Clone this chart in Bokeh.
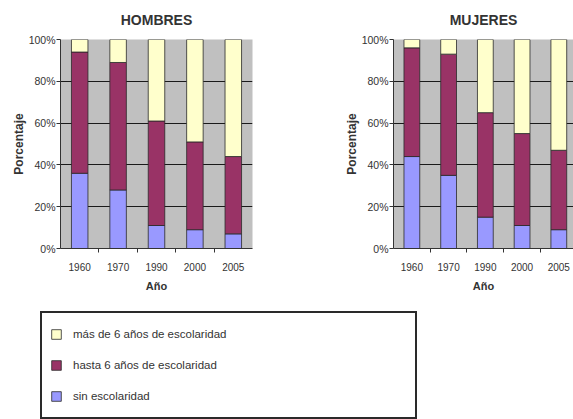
from bokeh.plotting import figure
from bokeh.layouts import column, row
from bokeh.models import Range1d, FixedTicker, Legend, LegendItem, ColumnDataSource
from bokeh.embed import file_html
from bokeh.resources import INLINE

years = ["1960", "1970", "1990", "2000", "2005"]
series = ["sin escolaridad", "hasta 6 años de escolaridad", "más de 6 años de escolaridad"]
hombres_sin = [36, 28, 11, 9, 7]
hombres_hasta = [58, 61, 50, 42, 37]
hombres_mas = [6, 11, 39, 49, 56]
mujeres_sin = [44, 35, 15, 11, 9]
mujeres_hasta = [52, 58, 50, 44, 38]
mujeres_mas = [4, 7, 35, 45, 53]
y_ticks = [0, 20, 40, 60, 80, 100]
y_tick_labels = ["0%", "20%", "40%", "60%", "80%", "100%"]

COLORS = ["#9999ff", "#993366", "#ffffcc"]
FONT = "Liberation Sans"
TXT = "#333333"


def make_chart(title, sin, hasta, mas, width, left, right, xend):
    p = figure(width=width, height=300, output_backend="svg", toolbar_location=None,
               x_range=Range1d(0, xend), y_range=Range1d(0, 100),
               min_border_left=left, min_border_right=right,
               min_border_top=39, min_border_bottom=52)
    p.title.text = title
    p.title.align = "center"
    p.title.vertical_align = "top"
    p.title.text_font = FONT
    p.title.text_font_size = "14px"
    p.title.text_font_style = "bold"
    p.title.text_color = TXT
    p.title.standoff = 19
    p.background_fill_color = "#c0c0c0"
    p.border_fill_color = "white"
    p.outline_line_color = None

    xs = [i + 0.5 for i in range(len(years))]
    b1 = [0] * len(sin)
    t1 = list(sin)
    b2 = t1
    t2 = [a + b for a, b in zip(sin, hasta)]
    b3 = t2
    t3 = [a + b + c for a, b, c in zip(sin, hasta, mas)]
    for bottom, top, col in [(b1, t1, COLORS[0]), (b2, t2, COLORS[1]), (b3, t3, COLORS[2])]:
        src = ColumnDataSource(dict(x=xs, bottom=bottom, top=top))
        p.vbar(x="x", bottom="bottom", top="top", width=0.43, source=src,
               fill_color=col, line_color="#2a2a2a", line_width=0.8)

    p.xaxis.ticker = FixedTicker(ticks=xs, minor_ticks=list(range(1, len(years))))
    p.xaxis.major_label_overrides = {x: y for x, y in zip(xs, years)}
    p.xaxis.major_tick_out = 0
    p.xaxis.major_tick_in = 0
    p.xaxis.minor_tick_out = 4
    p.xaxis.minor_tick_in = 0
    p.xaxis.minor_tick_line_color = "#333333"
    p.xaxis.axis_label = "Año"
    p.yaxis.axis_label = "Porcentaje"
    p.yaxis.ticker = FixedTicker(ticks=y_ticks)
    p.yaxis.major_label_overrides = {t: l for t, l in zip(y_ticks, y_tick_labels)}
    p.yaxis.major_tick_out = 4
    p.yaxis.major_tick_in = 0
    p.yaxis.minor_tick_out = 0
    p.yaxis.minor_tick_in = 0
    p.yaxis.major_label_standoff = 1
    p.xaxis.major_label_standoff = 10
    p.yaxis.axis_label_standoff = 0
    p.xaxis.axis_label_standoff = 6
    for ax in (p.xaxis, p.yaxis):
        ax.axis_line_color = "#333333"
        ax.major_tick_line_color = "#333333"
        ax.major_label_text_font = FONT
        ax.major_label_text_color = TXT
        ax.axis_label_text_font = FONT
        ax.axis_label_text_font_style = "bold"
        ax.axis_label_text_color = TXT
    p.xaxis.major_label_text_font_size = "10px"
    p.yaxis.major_label_text_font_size = "10.5px"
    p.xaxis.axis_label_text_font_size = "11px"
    p.yaxis.axis_label_text_font_size = "12px"
    p.xgrid.visible = False
    p.ygrid.ticker = FixedTicker(ticks=y_ticks)
    p.ygrid.grid_line_color = "#1a1a1a"
    p.ygrid.grid_line_width = 1
    return p


p1 = make_chart("HOMBRES", hombres_sin, hombres_hasta, hombres_mas, 290, 60, 38, 5)
p2 = make_chart("MUJERES", mujeres_sin, mujeres_hasta, mujeres_mas, 283, 103, 0, 4.9)

pl = figure(width=573, height=119, output_backend="svg", toolbar_location=None,
            x_range=Range1d(0, 1), y_range=Range1d(0, 1),
            x_axis_location=None, y_axis_location=None,
            min_border=0, outline_line_color=None)
pl.grid.visible = False
rs = []
for col in COLORS:
    # legend-only swatch renderers: a tiny mark hidden behind the legend's white box
    rs.append(pl.vbar(x=[0.5], top=[0.45], bottom=[0.44], width=0.001, fill_color=col,
                      line_color="#2a2a2a", line_width=0.8))
items = [LegendItem(label=series[i], renderers=[rs[i]]) for i in (2, 1, 0)]
legend = Legend(items=items, location=(40, 0), orientation="vertical",
                glyph_width=12, glyph_height=12, label_height=26, spacing=5,
                padding=8, margin=0, label_standoff=11, label_width=334,
                border_line_color="#2a2a2a", border_line_width=2, border_line_alpha=1,
                background_fill_color="white", background_fill_alpha=1,
                label_text_font=FONT, label_text_font_size="11.5px", label_text_color=TXT)
pl.add_layout(legend, "center")

layout = column(row(p1, p2), pl)
open("out.html", "w").write(file_html(layout, INLINE))
